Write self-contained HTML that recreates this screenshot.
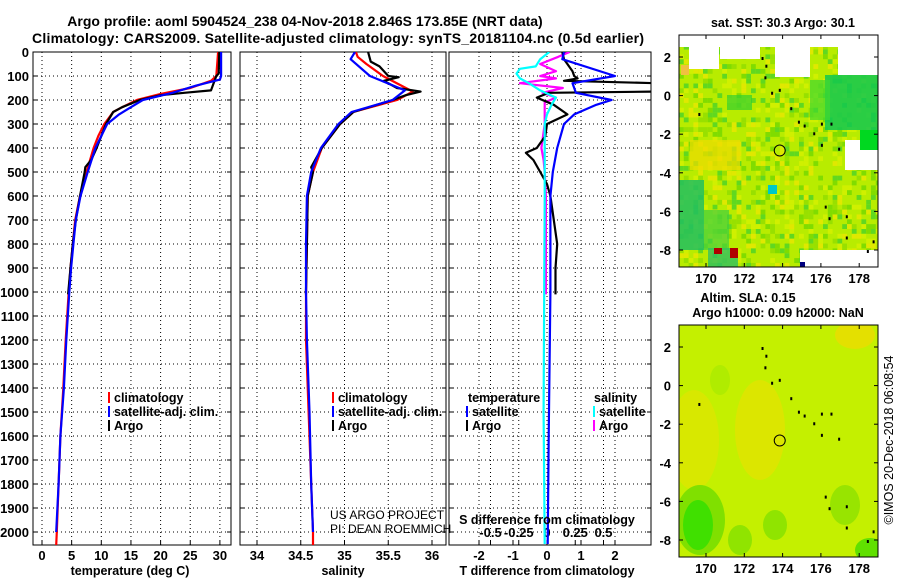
<!DOCTYPE html>
<html><head><meta charset="utf-8"><style>
body{margin:0;background:#fff}
svg{display:block;font-family:"Liberation Sans",sans-serif}
.b{font-weight:bold}
</style></head><body>
<svg id="s" width="900" height="580" viewBox="0 0 900 580">
<text x="305" y="26" text-anchor="middle" class="b" font-size="14">Argo profile: aoml 5904524_238 04-Nov-2018 2.846S 173.85E (NRT data)</text>
<text x="338" y="43" text-anchor="middle" class="b" font-size="14" textLength="612">Climatology: CARS2009. Satellite-adjusted climatology: synTS_20181104.nc (0.5d earlier)</text>
<g id="g"></g>
</svg>
<script>
// ---- data ----
const tClimD=[0,100,120,150,175,200,230,250,300,350,400,500,600,700,800,900,1000,1200,1400,1600,1800,2000,2055];
const tClimV=[29.7,29.4,28.5,25,20,16,13.5,12,10.5,9.5,8.7,7.5,6.4,5.6,5.2,4.8,4.5,4.0,3.6,3.1,2.8,2.5,2.4];
const tSatD=[0,100,115,140,170,200,230,260,300,350,400,500,600,700,800,900,1000,1200,1400,1600,1800,2000];
const tSatV=[30.2,30.2,30.0,26,22,17,15,13,11,10,9,7.7,6.5,5.7,5.3,4.9,4.6,4.1,3.7,3.1,2.8,2.4];
const tArgoD=[0,90,100,160,170,180,200,230,250,300,400,450,480,500,600,700,800,900,1010];
const tArgoV=[29.9,29.8,29.4,28.5,24,20,16.5,13.5,12,10.8,9.2,8.3,7.3,7.2,6.4,5.7,5.2,4.8,4.4];
const sClimD=[0,20,50,100,165,200,250,300,400,500,600,800,1000,1200,1500,1800,2000,2055];
const sClimV=[35.13,35.15,35.25,35.44,35.78,35.6,35.1,34.95,34.74,34.64,34.58,34.57,34.56,34.56,34.59,34.62,34.64,34.64];
const sSatD=[0,30,100,160,200,250,300,400,500,600,800,1000,1200,1500,1800,2000];
const sSatV=[35.12,35.07,35.29,35.69,35.55,35.08,34.93,34.73,34.62,34.57,34.56,34.56,34.57,34.6,34.62,34.64];
const sArgoD=[0,40,60,100,105,120,150,165,180,200,250,300,400,480,500,600,800,1000,1010];
const sArgoV=[35.27,35.3,35.4,35.5,35.62,35.45,35.6,35.87,35.7,35.55,35.1,34.95,34.74,34.62,34.64,34.58,34.57,34.56,34.56];
const dtSatD=[0,30,100,130,170,200,220,260,300,400,500,600,1000,1600,2050];
const dtSatV=[0.5,0.45,2.0,0.75,0.85,1.9,1.45,0.8,0.5,0.3,0.17,0.1,0.1,0.05,0.02];
const dtArgoD=[0,30,80,100,110,120,130,150,165,170,190,220,260,300,350,400,420,450,500,550,600,700,800,900,1000,1010];
const dtArgoV=[0.45,0.5,0.75,0.8,0.9,0.5,3.2,3.2,3.2,0.05,-0.3,0.2,0.6,0,-0.05,-0.3,-0.62,-0.4,-0.2,0,0.1,0.2,0.3,0.25,0.25,0.25];
const dsSatD=[0,30,60,70,90,110,130,160,190,220,260,300,600,1000,1500,2050];
const dsSatV=[0.02,-0.06,-0.1,-0.24,-0.27,-0.24,-0.16,-0.06,0.08,0.04,0,-0.02,-0.02,-0.025,-0.03,-0.02];
const dsArgoD=[0,20,50,80,100,110,130,150,170,190,210,300,400,450,500,600,800,1010];
const dsArgoV=[0.2,0.1,-0.06,0.08,-0.06,0.08,-0.24,0.14,-0.04,0.08,-0.02,-0.02,-0.05,-0.03,-0.02,-0.01,-0.01,-0.01];
const depthTicks=[0,100,200,300,400,500,600,700,800,900,1000,1100,1200,1300,1400,1500,1600,1700,1800,1900,2000];
const tTicks=[0,5,10,15,20,25,30];
const sTicks=[34,34.5,35,35.5,36];
const dtTicks=[-2,-1,0,1,2];
const dsTicks=[-0.5,-0.25,0,0.25,0.5];
const dsTickLabels=["-0.5","-0.25","0","0.25","0.5"];

const NS="http://www.w3.org/2000/svg";
const G=document.getElementById('g');
function el(t,a,p){const e=document.createElementNS(NS,t);for(const k in a)e.setAttribute(k,a[k]);(p||G).appendChild(e);return e;}
const Y=d=>52+d*0.24;
const xT=v=>42+v*5.93, xS=v=>257+(v-34)*87.5, xDT=v=>547+v*34, xDS=v=>547+v*113;
const panels=[{x0:33,x1:231,name:'temperature-panel'},{x0:240,x1:446,name:'salinity-panel'},{x0:449,x1:651,name:'difference-panel'}];
const defs=el('defs',{});
panels.forEach((p,i)=>{
  const c=el('clipPath',{id:'c'+i},defs); el('rect',{x:p.x0,y:52,width:p.x1-p.x0,height:493},c);
});
function grid(p,xs){
  const g=el('g',{stroke:'#000','stroke-width':1,'stroke-dasharray':'1 3'});
  
  
  depthTicks.forEach(d=>{el('line',{x1:p.x0,x2:p.x1,y1:Y(d),y2:Y(d)},g);
    el('line',{x1:p.x0,x2:p.x0+4,y1:Y(d),y2:Y(d),'stroke-dasharray':'none'},g);
    el('line',{x1:p.x1-4,x2:p.x1,y1:Y(d),y2:Y(d),'stroke-dasharray':'none'},g);});
  xs.forEach(x=>{el('line',{x1:x,x2:x,y1:52,y2:545},g);el('line',{x1:x,x2:x,y1:541,y2:545,'stroke-dasharray':'none'},g);});
  const r=el('rect',{x:p.x0,y:52,width:p.x1-p.x0,height:493,fill:'none',stroke:'#000','stroke-width':1});
  
  
}
grid(panels[0],tTicks.map(xT));
grid(panels[1],sTicks.map(xS));
grid(panels[2],dtTicks.map(xDT).concat(dsTicks.map(xDS)));
depthTicks.forEach(d=>{const t=el('text',{x:29,y:Y(d)+5,'text-anchor':'end','font-size':13,'class':'b'});t.textContent=d;
  
  });
function xl(arr,f,labels,y){arr.forEach((v,i)=>{const t=el('text',{x:f(v),y:y,'text-anchor':'middle','font-size':13,'class':'b'});t.textContent=labels?labels[i]:v;
  
  });}
xl(tTicks,xT,null,560); xl(sTicks,xS,null,560); xl(dtTicks,xDT,null,560); xl(dsTicks,xDS,dsTickLabels,537);
function line(D,V,f,col,ci,name){
  const pts=D.map((d,i)=>f(V[i]).toFixed(1)+','+Y(d).toFixed(1)).join(' ');
  const l=el('polyline',{points:pts,fill:'none',stroke:col,'stroke-width':2.2,'clip-path':'url(#c'+ci+')','stroke-linejoin':'round'});
  
  
}
line(tClimD,tClimV,xT,'#f00',0,'temp-climatology-line');
line(tArgoD,tArgoV,xT,'#000',0,'temp-argo-line');
line(tSatD,tSatV,xT,'#00f',0,'temp-satellite-line');
line(sClimD,sClimV,xS,'#f00',1,'sal-climatology-line');
line(sArgoD,sArgoV,xS,'#000',1,'sal-argo-line');
line(sSatD,sSatV,xS,'#00f',1,'sal-satellite-line');
line(dsArgoD,dsArgoV,xDS,'#f0f',2,'sdiff-argo-line');
line(dtArgoD,dtArgoV,xDT,'#000',2,'tdiff-argo-line');
line(dtSatD,dtSatV,xDT,'#00f',2,'tdiff-satellite-line');
line(dsSatD,dsSatV,xDS,'#0ff',2,'sdiff-satellite-line');
function txt(x,y,s,sz,bold,name,anchor){const t=el('text',{x:x,y:y,'font-size':sz,'text-anchor':anchor||'start'});if(bold)t.setAttribute('class','b');t.textContent=s;
  
  return t;}
function leg(x,y,col,s,name){el('rect',{x:x,y:y-10,width:2,height:11,fill:col});txt(x+6,y,s,12.5,true,name);}
leg(108,402,'#f00','climatology','temp-legend-climatology');leg(108,416,'#00f','satellite-adj. clim.','temp-legend-satellite');leg(108,430,'#000','Argo','temp-legend-argo');
leg(332,402,'#f00','climatology','sal-legend-climatology');leg(332,416,'#00f','satellite-adj. clim.','sal-legend-satellite');leg(332,430,'#000','Argo','sal-legend-argo');
txt(468,402,'temperature',12.5,true,'diff-legend-temperature-header');txt(594,402,'salinity',12.5,true,'diff-legend-salinity-header');
leg(466,416,'#00f','satellite','diff-legend-t-satellite');leg(466,430,'#000','Argo','diff-legend-t-argo');
leg(593,416,'#0ff','satellite','diff-legend-s-satellite');leg(593,430,'#f0f','Argo','diff-legend-s-argo');
txt(330,519,'US ARGO PROJECT',12,false,'project-credit');txt(330,533,'PI: DEAN ROEMMICH',12,false,'pi-credit');
txt(547,524,'S difference from climatology',12.5,true,'s-diff-axis-title','middle');
txt(130,575,'temperature (deg C)',12.5,true,'temp-axis-title','middle');
txt(343,575,'salinity',12.5,true,'sal-axis-title','middle');
txt(547,575,'T difference from climatology',12.5,true,'t-diff-axis-title','middle');

// ---- maps ----
const lonTicks=[170,172,174,176,178], latTicks=[2,0,-2,-4,-6,-8];
const floatLon=173.85, floatLat=-2.846;
const coast=[[172.9,2.0],[173.1,1.6],[173.05,1.0],[173.4,0.2],[173.8,0.35],[174.4,-0.6],[174.8,-1.3],[175.1,-1.5],[175.6,-1.9],[176.0,-1.4],[176.5,-1.4],[176.0,-2.5],[176.9,-2.7],[169.6,-0.9],[176.2,-5.7],[176.4,-6.3],[177.3,-6.2],[177.3,-7.3],[178.7,-7.5],[178.4,-8.0]];
const texPalette=['#98e000','#d0f000','#80dc00','#e0e800','#60d820'];
function map(y0,y1,name,title,base,patches,texture){
  const x0=679,x1=878,lx=v=>706+(v-170)*19.15,ly=v=>y0+22+(2-v)*19.3;
  const cid='m'+y0; const c=el('clipPath',{id:cid},defs); el('rect',{x:x0,y:y0,width:x1-x0,height:y1-y0},c);
  const g=el('g',{'clip-path':'url(#'+cid+')'});
  
  
  el('rect',{x:x0,y:y0,width:x1-x0,height:y1-y0,fill:base},g);
  if(texture){
    for(let i=0;i<42;i++)for(let j=0;j<48;j++){
      const h=((i*73856093)^(j*19349663))>>>0; const k=h%11;
      if(k<texPalette.length) el('rect',{x:x0+i*4.8,y:y0+j*4.85,width:4.8,height:4.85,fill:texPalette[k]},g);
    }
  }
  patches.forEach(p=>el(p[0],p[1],g));
  coast.forEach(p=>el('rect',{x:lx(p[0]),y:ly(p[1]),width:2,height:3,fill:'#000'},g));
  const ci=el('circle',{cx:lx(floatLon),cy:ly(floatLat),r:5.5,fill:'none',stroke:'#000','stroke-width':1});
  
  
  const r=el('rect',{x:x0,y:y0,width:x1-x0,height:y1-y0,fill:'none',stroke:'#000'});
  
  
  lonTicks.forEach(v=>{el('line',{x1:lx(v),x2:lx(v),y1:y1-4,y2:y1,stroke:'#000'});el('line',{x1:lx(v),x2:lx(v),y1:y0,y2:y0+4,stroke:'#000'});
    txt(lx(v),y1+16,String(v),13,true,name+'-lon-label','middle');});
  latTicks.forEach(v=>{el('line',{x1:x1-4,x2:x1,y1:ly(v),y2:ly(v),stroke:'#000'});el('line',{x1:x0,x2:x0+4,y1:ly(v),y2:ly(v),stroke:'#000'});
    txt(x0-8,ly(v)+5,String(v),13,true,name+'-lat-label','end');});
  title.forEach((t,i)=>txt(t[1],t[2],t[0],12.5,true,name+'-title','middle'));
}
map(35,267,'sst-map',[['sat. SST: 30.3 Argo: 30.1',783,27]],'#b8ec00',[
 ['rect',{x:679,y:35,width:200,height:12,fill:'#fff'}],
 ['rect',{x:689,y:47,width:30,height:22,fill:'#fff'}],
 ['rect',{x:720,y:47,width:40,height:12,fill:'#fff'}],
 ['rect',{x:775,y:47,width:35,height:30,fill:'#fff'}],
 ['rect',{x:838,y:35,width:40,height:40,fill:'#fff'}],
 ['rect',{x:845,y:140,width:33,height:30,fill:'#fff'}],
 ['rect',{x:800,y:250,width:78,height:17,fill:'#fff'}],
 ['rect',{x:825,y:75,width:53,height:55,fill:'#10c850','fill-opacity':0.85}],
 ['rect',{x:810,y:80,width:20,height:40,fill:'#40d830','fill-opacity':0.7}],
 ['rect',{x:860,y:130,width:18,height:20,fill:'#00d820'}],
 ['rect',{x:690,y:140,width:50,height:30,fill:'#f0dc00','fill-opacity':0.7}],
 ['rect',{x:681,y:65,width:8,height:10,fill:'#f0c040'}],
 ['rect',{x:679,y:180,width:25,height:70,fill:'#20c060','fill-opacity':0.85}],
 ['rect',{x:704,y:210,width:25,height:40,fill:'#40d040','fill-opacity':0.7}],
 ['rect',{x:708,y:248,width:30,height:19,fill:'#30c060','fill-opacity':0.8}],
 ['rect',{x:714,y:248,width:8,height:6,fill:'#b00000'}],
 ['rect',{x:730,y:248,width:8,height:10,fill:'#b00000'}],
 ['rect',{x:768,y:185,width:9,height:9,fill:'#00c8c8'}],
 ['rect',{x:727,y:95,width:25,height:15,fill:'#30d030','fill-opacity':0.7}],
 ['rect',{x:800,y:262,width:5,height:5,fill:'#000080'}]
],true);
map(325,557,'sla-map',[['Altim. SLA: 0.15',748,302],['Argo h1000: 0.09 h2000: NaN',778,317]],'#c4f000',[
 ['ellipse',{cx:694,cy:440,rx:25,ry:50,fill:'#d8e800'}],
 ['ellipse',{cx:760,cy:430,rx:25,ry:50,fill:'#dce600'}],
 ['ellipse',{cx:855,cy:335,rx:20,ry:14,fill:'#e4e000'}],
 ['ellipse',{cx:700,cy:520,rx:25,ry:35,fill:'#80e000'}],
 ['ellipse',{cx:698,cy:525,rx:15,ry:25,fill:'#40e000'}],
 ['ellipse',{cx:740,cy:540,rx:12,ry:15,fill:'#90e400'}],
 ['ellipse',{cx:775,cy:525,rx:12,ry:15,fill:'#90e400'}],
 ['ellipse',{cx:845,cy:505,rx:15,ry:20,fill:'#98e400'}],
 ['ellipse',{cx:870,cy:550,rx:15,ry:12,fill:'#60e000'}],
 ['ellipse',{cx:720,cy:380,rx:10,ry:15,fill:'#b0ec00'}]
],false);
const cp=txt(893,440,'©IMOS 20-Dec-2018 06:08:54',12.5,false,'timestamp-credit','middle');
cp.setAttribute('transform','rotate(-90 893 440)');
</script>
</body></html>
